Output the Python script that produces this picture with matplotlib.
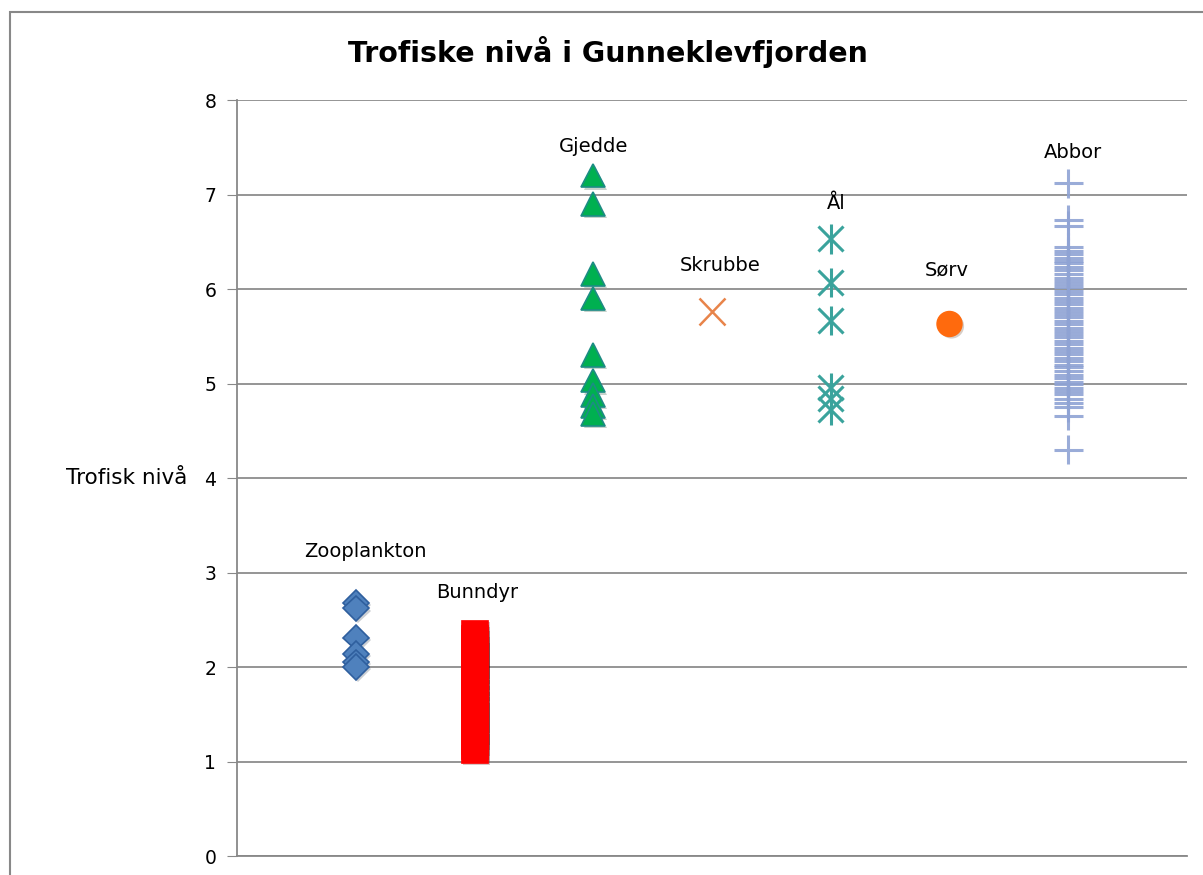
import matplotlib.pyplot as plt
from matplotlib.patches import Rectangle
import matplotlib.patheffects as pe

# trofisk nivå per art (lest av figuren)
arter = ['Zooplankton', 'Bunndyr', 'Gjedde', 'Skrubbe', 'Ål', 'Sørv', 'Abbor']
zooplankton = [2.68, 2.62, 2.31, 2.14, 2.05, 2.0]
bunndyr = [1.12, 1.17, 1.22, 1.28, 1.34, 1.4, 1.46, 1.5, 1.56, 1.62, 1.68, 1.74,
           1.8, 1.86, 1.92, 1.98, 2.03, 2.08, 2.14, 2.2, 2.26, 2.31, 2.36]
gjedde = [7.2, 6.9, 6.16, 5.9, 5.3, 5.03, 4.88, 4.76, 4.68]
skrubbe = [5.76]
aal = [6.53, 6.07, 5.67, 4.96, 4.84, 4.72]
sorv = [5.63]
abbor = [7.12, 6.73, 6.67, 6.44, 6.4, 6.37, 6.33, 6.3, 6.27, 6.23, 6.2, 6.16,
         6.12, 6.09, 6.05, 6.02, 5.98, 5.95, 5.91, 5.87, 5.84, 5.8, 5.77, 5.74,
         5.7, 5.66, 5.63, 5.59, 5.56, 5.52, 5.49, 5.45, 5.42, 5.38, 5.34, 5.31,
         5.27, 5.24, 5.2, 5.17, 5.13, 5.09, 5.06, 5.02, 4.99, 4.95, 4.92, 4.89,
         4.84, 4.79, 4.75, 4.66, 4.3]

fig = plt.figure(figsize=(12.03, 8.75), dpi=100)
ax = fig.add_axes([0.197, 0.0217, 0.7897, 0.864])

shadow = [pe.SimplePatchShadow(offset=(1.5, -1.5), alpha=0.22), pe.Normal()]

def plot_art(i, verdier, **kw):
    ax.plot([i + 1] * len(verdier), verdier, linestyle='none',
            path_effects=shadow, zorder=3, **kw)

plot_art(0, zooplankton, marker='D', ms=13, mfc='#4F81BD', mec='#2F5F9E', mew=1.2)
plot_art(1, bunndyr, marker='s', ms=19, mfc='#FF0000', mec='#FF0000', mew=0.5)
plot_art(2, gjedde, marker='^', ms=17, mfc='#00B050', mec='#1C8C84', mew=1.2)
plot_art(3, skrubbe, marker='x', ms=19, mec='#E8844A', mew=1.8)
plot_art(4, aal, marker='x', ms=18, mec='#3AA39C', mew=2.2)
plot_art(4, aal, marker='|', ms=21, mec='#3AA39C', mew=2.2)
plot_art(5, sorv, marker='o', ms=18, mfc='#FF6A0D', mec='#FF6A0D')
plot_art(6, abbor, marker='+', ms=21, mec='#8FA3D4', mew=2.2, alpha=0.9)

# artsnavn over hver kolonne
etikett_x = [1.08, 2.02, 3.0, 4.07, 5.05, 5.98, 7.04]
etikett_y = [3.22, 2.79, 7.51, 6.25, 6.91, 6.2, 7.44]
for navn, x, y in zip(arter, etikett_x, etikett_y):
    ax.text(x, y, navn, ha='center', va='center', fontsize=14)

ax.set_xlim(0, 8)
ax.set_ylim(0, 8)
ax.set_yticks(range(0, 9))
ax.set_xticks([])
ax.tick_params(axis='y', labelsize=13.5, length=7, color='#888888', pad=8)
ax.grid(axis='y', color='#8C8C8C', linewidth=1.3)
ax.set_axisbelow(True)
for s in ['top', 'right']:
    ax.spines[s].set_visible(False)
for s in ['left', 'bottom']:
    ax.spines[s].set_color('#888888')
    ax.spines[s].set_linewidth(1.3)

ax.set_ylabel('Trofisk nivå', fontsize=15.5, rotation=0, ha='right', va='center')
ax.yaxis.set_label_coords(-0.052, 0.5)

fig.text(0.505, 0.94, 'Trofiske nivå i Gunneklevfjorden', ha='center',
         va='center', fontsize=20.5, fontweight='bold')

# ramme rundt diagrammet
fig.patches.append(Rectangle((10 / 1203, -0.1), 1.2, 1.0863, transform=fig.transFigure,
                             fill=False, edgecolor='#888888', linewidth=1.5))

fig.savefig('out.png', dpi=100)
